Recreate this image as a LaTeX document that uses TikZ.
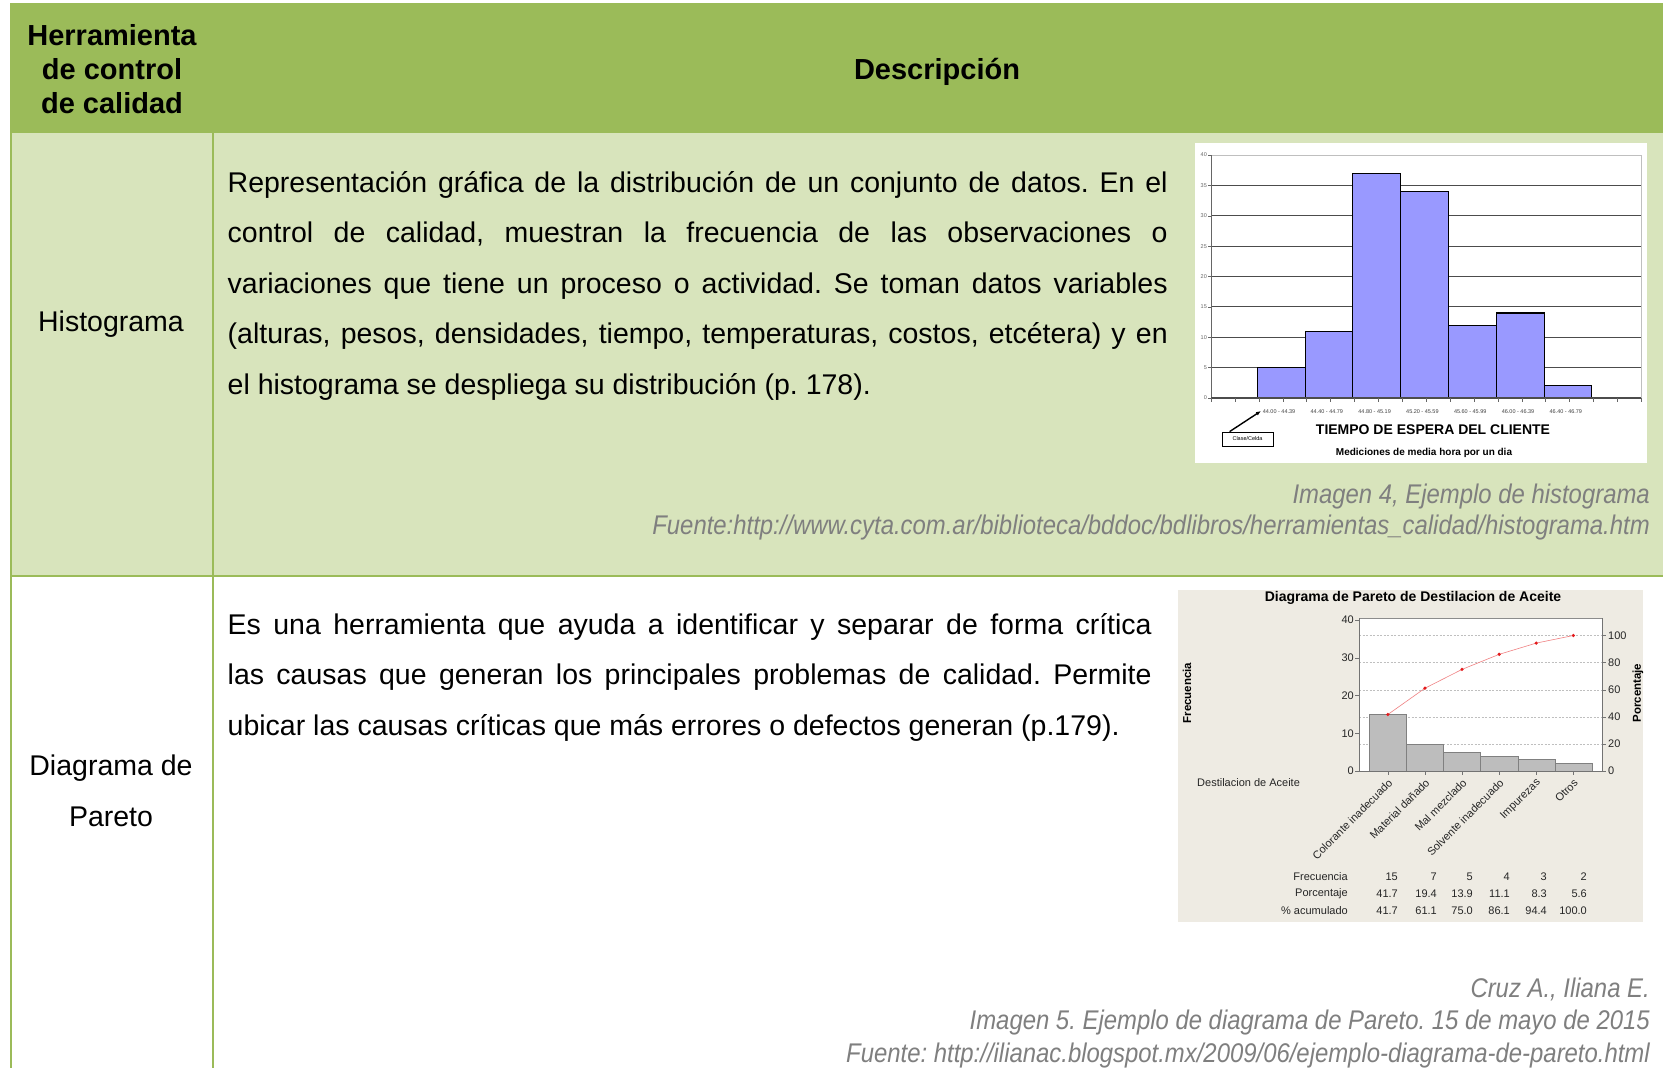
\documentclass[tikz,border=0pt]{standalone}
\usepackage{fontspec}
\setmainfont{Liberation Sans}
\newfontfamily\capfont[FakeStretch=0.885]{Liberation Sans}
\usetikzlibrary{arrows.meta}
\frenchspacing
\definecolor{hdrgreen}{HTML}{9BBB59}
\definecolor{rowgreen}{HTML}{D8E4BC}
\definecolor{capgray}{HTML}{7F7F7F}
\definecolor{histblue}{HTML}{9999FF}
\definecolor{parbeige}{HTML}{EEEBE3}
\definecolor{parbar}{HTML}{BDBDBD}
\definecolor{parred}{HTML}{E31A1C}
\tikzset{
 body/.style={font=\fontsize{28.5}{50.5}\selectfont, inner sep=0pt},
 hdrtext/.style={font=\bfseries\fontsize{29}{34}\selectfont, inner sep=0pt, anchor=base},
 para/.style={body, anchor=north west, align=justify},
 captxt/.style={font=\capfont\itshape\fontsize{27}{32}\selectfont, text=capgray, anchor=base east, inner sep=0pt},
 tinytxt/.style={font=\fontsize{5.5}{6}\selectfont, inner sep=0pt},
 pfont/.style={font=\fontsize{11}{12}\selectfont, inner sep=0pt, text=black!85},
 gridln/.style={black!70, line width=1.2pt},
 tablerule/.style={hdrgreen, line width=2.5pt},
}
\begin{document}
\begin{tikzpicture}[x=1pt,y=-1pt]
\useasboundingbox (0,0) rectangle (1663,1068);
\fill[white] (0,0) rectangle (1663,1068);
% table backgrounds and rules
\fill[hdrgreen] (10,3) rectangle (1663,133);
\fill[rowgreen] (10,133) rectangle (1663,576);
\draw[tablerule] (11,133) -- (11,1068);
\draw[tablerule] (213,133) -- (213,1068);
\draw[tablerule] (10,576) -- (1663,576);

% header
\node[hdrtext] (h1) at (112,45) {Herramienta};
\node[hdrtext] (h2) at (112,79) {de control};
\node[hdrtext] (h3) at (112,113) {de calidad};
\node[hdrtext] (h4) at (937,79) {Descripción};

% row labels
\node[body, anchor=base] (r1) at (111,331) {Histograma};
\node[body, anchor=base] (r2a) at (111,775) {Diagrama de};
\node[body, anchor=base] (r2b) at (111,826) {Pareto};

% paragraphs
\node[para, text width=940pt] (p1) at (227.5,162) {\frenchspacing\hyphenpenalty=10000\rule{0pt}{30pt}Representación gráfica de la distribución de un conjunto de datos. En el\linebreak
control de calidad, muestran la frecuencia de las observaciones o\linebreak
variaciones que tiene un proceso o actividad. Se toman datos variables\linebreak
(alturas, pesos, densidades, tiempo, temperaturas, costos, etcétera) y en\linebreak
el histograma se despliega su distribución (p. 178).};

\node[para, text width=924pt] (p2) at (227.5,604) {\frenchspacing\hyphenpenalty=10000\rule{0pt}{30pt}Es una herramienta que ayuda a identificar y separar de forma crítica\linebreak
las causas que generan los principales problemas de calidad. Permite\linebreak
ubicar las causas críticas que más errores o defectos generan (p.179).};

% captions
\node[captxt] (c1) at (1650,503) {Imagen 4, Ejemplo de histograma};
\node[captxt] (c2) at (1650,534) {Fuente:http://www.cyta.com.ar/biblioteca/bddoc/bdlibros/herramientas\_calidad/histograma.htm};
\node[captxt] (c3) at (1650,997) {Cruz A., Iliana E.};
\node[captxt] (c4) at (1650,1029) {\frenchspacing Imagen 5. Ejemplo de diagrama de Pareto. 15 de mayo de 2015};
\node[captxt] (c5) at (1650,1062) {Fuente: http://ilianac.blogspot.mx/2009/06/ejemplo-diagrama-de-pareto.html};

% ---------------- histogram ----------------
\fill[white] (1195,143) rectangle (1647,463);
\draw[black!25, line width=1pt] (1211,155) -- (1641,155);
\foreach \k in {1,...,7} \draw[gridln] (1211,{398-30.375*\k}) -- (1641,{398-30.375*\k});
\draw[black!25] (1641,155) -- (1641,398);
\foreach \h [count=\i from 0] in {5,11,37,34,12,14,2}
  \draw[fill=histblue, line width=1.1pt] ({1257.3+47.8*\i},398) rectangle ({1305.1+47.8*\i},{398-6.075*\h});
\draw[black!60, line width=0.8pt] (1211,155) -- (1211,401);
\draw[gridln] (1211,398) -- (1641,398);
\foreach \k in {0,...,8} {
  \pgfmathtruncatemacro{\lv}{5*\k}
  \draw[black!60] (1208,{398-30.375*\k}) -- (1211,{398-30.375*\k});
  \node[tinytxt, anchor=east, text=black!60] (hy\k) at (1207,{398-30.375*\k}) {\lv};
}
\foreach \j in {0,...,18} \draw[black!60] ({1211+23.9*\j},398) -- ({1211+23.9*\j},402);
\foreach \lab [count=\i from 0] in {44.00 - 44.39,44.40 - 44.79,44.80 - 45.19,45.20 - 45.59,45.60 - 45.99,46.00 - 46.39,46.40 - 46.79}
  \node[tinytxt, text=black!75] (hx\i) at ({1279+47.8*\i},412) {\lab};
\node[font=\bfseries\fontsize{14}{16}\selectfont, inner sep=0pt] (htitle) at (1433,430) {TIEMPO DE ESPERA DEL CLIENTE};
\node[font=\bfseries\fontsize{10}{12}\selectfont, inner sep=0pt] (hsub) at (1424,453) {Mediciones de media hora por un dia};
\node[draw, tinytxt, minimum width=51pt, minimum height=14pt, line width=0.8pt] (clase) at (1247.5,439) {Clase/Celda};
\coordinate (clasetip) at (1261,411);
\draw[-{Latex[length=5pt,width=4pt]}, line width=1.4pt] ([xshift=8pt]clase.north west) -- (clasetip);

% ---------------- Pareto ----------------
\fill[parbeige] (1178,590) rectangle (1643,922);
\node[font=\bfseries\fontsize{14}{16}\selectfont, inner sep=0pt] (ptitle) at (1413,598) {Diagrama de Pareto de Destilacion de Aceite};
\draw[fill=white, draw=black!45] (1359,618) rectangle (1602,771);
\foreach \p in {20,40,60,80,100}
  \draw[black!25, dash pattern=on 2pt off 1.5pt] (1359,{771-1.355*\p}) -- (1602,{771-1.355*\p});
\foreach \f [count=\i from 0] in {15,7,5,4,3,2}
  \draw[fill=parbar, draw=black!50] ({1369.3+37.1*\i},771) rectangle ({1406.4+37.1*\i},{771-3.77*\f});
\draw[black!55] (1359,618) -- (1359,771) -- (1602,771) -- (1602,618);
\foreach \f in {0,10,20,30,40} {
  \draw[black!55] (1355,{771-3.77*\f}) -- (1359,{771-3.77*\f});
  \node[pfont, anchor=east] (pl\f) at (1354,{771-3.77*\f}) {\f};
}
\foreach \p in {0,20,40,60,80,100} {
  \draw[black!55] (1602,{771-1.355*\p}) -- (1606,{771-1.355*\p});
  \node[pfont, anchor=west] (pr\p) at (1608,{771-1.355*\p}) {\p};
}
\foreach \i in {0,...,5} \draw[black!55] ({1387.85+37.1*\i},771) -- ({1387.85+37.1*\i},775);
\foreach \p [count=\i from 0] in {41.7,61.1,75.0,86.1,94.4,100}
  \coordinate (cp\i) at ({1387.85+37.1*\i},{771-1.355*\p});
\draw[parred!55, line width=0.6pt] (cp0) -- (cp1) -- (cp2) -- (cp3) -- (cp4) -- (cp5);
\foreach \i in {0,...,5} \fill[parred] (cp\i) circle (1.8);
\foreach \lab [count=\i from 0] in {Colorante inadecuado,Material dañado,Mal mezclado,Solvente inadecuado,Impurezas,Otros}
  \node[pfont, anchor=east, rotate=45] (cat\i) at ({1390.5+37.1*\i},781) {\lab};
\node[rotate=90, font=\bfseries\fontsize{11.5}{12}\selectfont, inner sep=0pt] (ylab) at (1187,693) {Frecuencia};
\node[rotate=90, font=\bfseries\fontsize{11.5}{12}\selectfont, inner sep=0pt] (ylab2) at (1638,693) {Porcentaje};
\node[pfont, anchor=west] (pdest) at (1197,783) {Destilacion de Aceite};
\node[pfont, anchor=east] (rowf) at (1348,877) {Frecuencia};
\node[pfont, anchor=east] (rowp) at (1348,894) {Porcentaje};
\node[pfont, anchor=east] (rowa) at (1348,911) {\% acumulado};
\foreach \x/\a/\b/\c [count=\i] in {1398/15/41.7/41.7,1437/7/19.4/61.1,1473/5/13.9/75.0,1510/4/11.1/86.1,1547/3/8.3/94.4,1587/2/5.6/100.0} {
  \node[pfont, anchor=east] (vf\i) at (\x,877) {\a};
  \node[pfont, anchor=east] (vp\i) at (\x,894) {\b};
  \node[pfont, anchor=east] (va\i) at (\x,911) {\c};
}
\end{tikzpicture}
\end{document}
